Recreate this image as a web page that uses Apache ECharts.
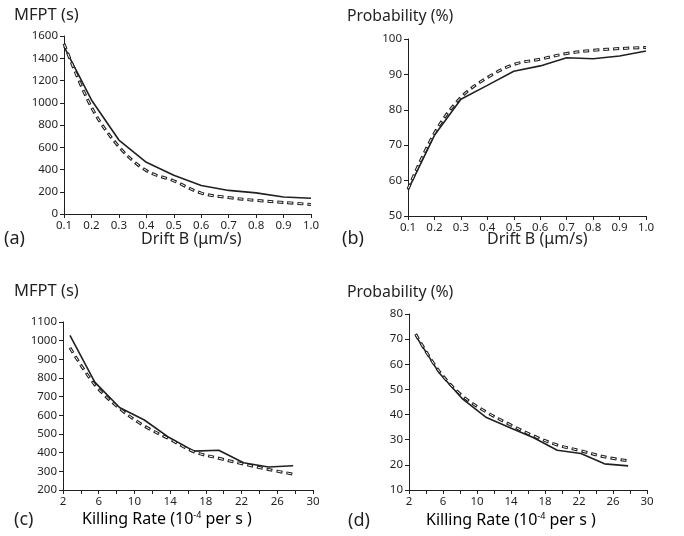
<!DOCTYPE html>
<html><head><meta charset="utf-8">
<script src="https://cdn.jsdelivr.net/npm/echarts@6/dist/echarts.min.js"></script>
<style>html,body{margin:0;padding:0;background:#fff}#c{width:684px;height:536px}</style>
</head><body><div id="c"></div>
<script>
// ---- data ----
const driftB = [0.1,0.2,0.3,0.4,0.5,0.6,0.7,0.8,0.9,1.0];
const mfptDriftSim = [1505,1025,665,465,348,256,212,190,153,142];
const mfptDriftTheory = [1530,960,605,390,298,188,148,122,104,86];
const probDriftSim = [57.4,72.8,83.0,86.9,90.9,92.4,94.7,94.4,95.2,96.6];
const probDriftTheory = [57.6,73.4,83.5,89.1,92.8,94.3,95.9,96.8,97.3,97.6];
const killRate = [2.78,5.56,8.33,11.11,13.89,16.67,19.44,22.22,25.0,27.78];
const mfptKillSim = [1028,778,642,575,481,408,413,346,323,330];
const mfptKillTheory = [962,764,637,543,474,405,370,339,310,285];
const probKillSim = [71.4,56.5,46.1,38.8,34.8,30.8,25.8,24.5,20.4,19.6];
const probKillTheory = [72.0,57.2,47.3,41.0,36.0,31.5,27.9,25.6,23.2,21.6];

const FONT = '"Noto Sans", "Open Sans", sans-serif';
const INK = '#231f20';
const chart = echarts.init(document.getElementById('c'));

const grids = [
  {left:64, top:36, width:247, height:178},
  {left:408, top:39, width:238, height:177},
  {left:63, top:322, width:250, height:168},
  {left:409, top:314, width:238, height:176}
];
function xAx(i, min, max, interval, fmt){
  return {type:'value', gridIndex:i, min, max, interval,
    axisLine:{show:true, lineStyle:{color:INK, width:1}},
    axisTick:{show:true, length:4, lineStyle:{color:INK}},
    splitLine:{show:false},
    axisLabel:{color:INK, fontFamily:FONT, fontSize:11.5, margin:6, formatter:fmt}};
}
function yAx(i, min, max, interval){
  return {type:'value', gridIndex:i, min, max, interval,
    axisLine:{show:true, lineStyle:{color:INK, width:1}},
    axisTick:{show:true, length:4, lineStyle:{color:INK}},
    splitLine:{show:false},
    axisLabel:{color:INK, fontFamily:FONT, fontSize:11.5, margin:6, formatter:v=>String(Math.round(v))}};
}
const driftFmt = v => v.toFixed(1);
const killFmt = v => ((Math.round(v)-2)%4===0 ? String(Math.round(v)) : '');

function pairs(xs, ys){ return xs.map((x,k)=>[x, ys[k]]); }
function solid(i, xs, ys){
  return {type:'line', xAxisIndex:i, yAxisIndex:i, data:pairs(xs,ys), symbol:'none', z:3,
    lineStyle:{color:INK, width:1.6}};
}
function hollowDash(i, xs, ys){
  return [
    {type:'line', xAxisIndex:i, yAxisIndex:i, data:pairs(xs,ys), symbol:'none', smooth:0.35, z:4,
      lineStyle:{color:INK, width:3, type:[6,4], cap:'butt'}},
    {type:'line', xAxisIndex:i, yAxisIndex:i, data:pairs(xs,ys), symbol:'none', smooth:0.35, z:5,
      lineStyle:{color:'#ffffff', width:1, type:[4,6], dashOffset:-1, cap:'butt'}}
  ];
}
function txt(x, y, t, size){
  return {type:'text', left:x, top:y, style:{text:t, fill:INK, font:size+'px '+FONT}};
}
const supRich = {
  base:{fontSize:16, fontFamily:FONT, color:INK},
  sup:{fontSize:9, fontFamily:FONT, color:INK, verticalAlign:'top', padding:[0,0,8,0]}
};

chart.setOption({
  animation:false,
  grid:grids,
  xAxis:[xAx(0,0.1,1.0,0.1,driftFmt), xAx(1,0.1,1.0,0.1,driftFmt), xAx(2,2,30,2,killFmt), xAx(3,2,30,2,killFmt)],
  yAxis:[yAx(0,0,1600,200), yAx(1,50,100,10), yAx(2,200,1100,100), yAx(3,10,80,10)],
  series:[
    solid(0, driftB, mfptDriftSim), ...hollowDash(0, driftB, mfptDriftTheory),
    solid(1, driftB, probDriftSim), ...hollowDash(1, driftB, probDriftTheory),
    solid(2, killRate, mfptKillSim), ...hollowDash(2, killRate, mfptKillTheory),
    solid(3, killRate, probKillSim), ...hollowDash(3, killRate, probKillTheory)
  ],
  graphic:[
    txt(14, 7, 'MFPT (s)', 16.5),
    txt(347, 8, 'Probability (%)', 15.8),
    txt(14, 283, 'MFPT (s)', 16.5),
    txt(347, 284, 'Probability (%)', 15.8),
    txt(4, 230, '(a)', 18),
    txt(342, 230, '(b)', 18),
    txt(14, 511, '(c)', 18),
    txt(348, 512, '(d)', 18),
    txt(141, 231, 'Drift B (μm/s)', 16),
    txt(487, 231, 'Drift B (μm/s)', 16),
    {type:'text', left:82, top:511, style:{text:'{base|Killing Rate (10}{sup|-4}{base| per s )}', rich:supRich}},
    {type:'text', left:426, top:512, style:{text:'{base|Killing Rate (10}{sup|-4}{base| per s )}', rich:supRich}}
  ]
});
</script></body></html>
